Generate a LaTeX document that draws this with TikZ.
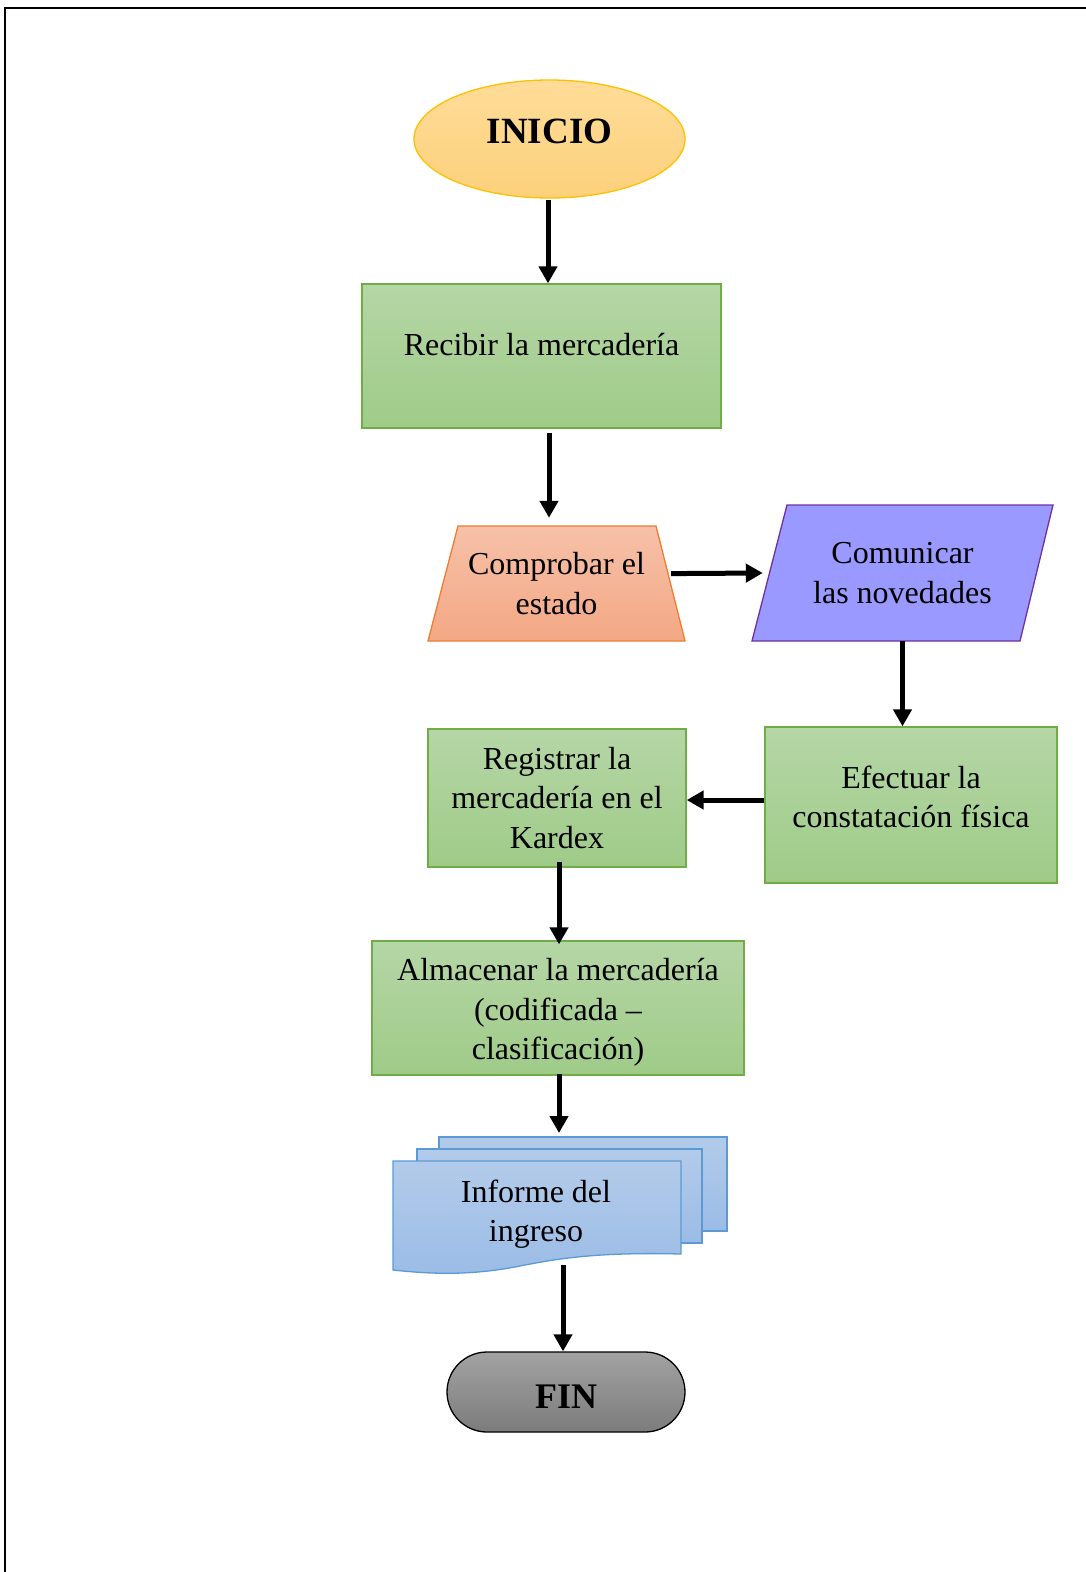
\documentclass[tikz,border=0pt]{standalone}
\usepackage{fontspec}
\setmainfont{Liberation Serif}
\usetikzlibrary{arrows.meta,shapes.geometric,calc}
\definecolor{grnB}{HTML}{70AD47}
\definecolor{grnT}{HTML}{B5D6A6}
\definecolor{grnM}{HTML}{9FCB88}
\definecolor{orB}{HTML}{ED7D31}
\definecolor{orT}{HTML}{F6C1A8}
\definecolor{orM}{HTML}{F4A885}
\definecolor{yeB}{HTML}{FFC000}
\definecolor{yeT}{HTML}{FFDC98}
\definecolor{yeM}{HTML}{FCD17C}
\definecolor{puF}{HTML}{9999FF}
\definecolor{puB}{HTML}{7030A0}
\definecolor{blB}{HTML}{5B9BD5}
\definecolor{blT}{HTML}{B3CBEA}
\definecolor{blM}{HTML}{9BBCE6}
\definecolor{gyT}{HTML}{A2A2A2}
\definecolor{gyM}{HTML}{7C7C7C}
\tikzset{
  txt/.style={font=\fontsize{32}{39.5}\selectfont, align=center, inner sep=0pt},
  greenbox/.style={rectangle, draw=grnB, line width=1.3pt, top color=grnT, bottom color=grnM, inner sep=0pt},
  arr/.style={line width=5pt, -{Triangle[length=17pt,width=18pt]}},
  frame/.style={line width=2pt},
}
\begin{document}
\begin{tikzpicture}[x=1pt,y=-1pt]
\useasboundingbox (0,0) rectangle (1086,1572);
\fill[white] (0,0) rectangle (1086,1572);
% page frame
\draw[frame] (5,1580) -- (5,8) -- (1095,8);

% INICIO
\node[ellipse, draw=yeB, line width=1.3pt, top color=yeT, bottom color=yeM,
      minimum width=271pt, minimum height=118pt, inner sep=0pt] (inicio) at (549.5,139) {};
\node[inner sep=0pt, font=\fontsize{37}{40}\selectfont\bfseries] (inicioT) at ([yshift=8pt]inicio.center) {INICIO};

% Recibir
\node[greenbox, minimum width=359pt, minimum height=144pt] (recibir) at (541.5,356) {};
\node[txt] (recibirT) at ([yshift=11pt]recibir.center) {Recibir la mercadería};

% Comprobar (trapezoid)
\path[draw=orB, line width=1.3pt, top color=orT, bottom color=orM]
  (458,526) -- (656,526) -- (685,641) -- (428,641) -- cycle;
\node[txt, minimum width=257pt, minimum height=115pt] (comp) at (556.5,583.5) {Comprobar el\\estado};

% Comunicar (parallelogram)
\path[draw=puB, fill=puF, line width=1.3pt]
  (787,505) -- (1053,505) -- (1020,641) -- (752,641) -- cycle;
\node[txt, minimum width=301pt, minimum height=136pt] (com) at (902.5,573) {Comunicar\\las novedades};

% Efectuar
\node[greenbox, minimum width=292pt, minimum height=156pt] (efe) at (911,805) {};
\node[txt] (efeT) at ([yshift=8pt]efe.center) {Efectuar la\\constatación física};

% Registrar
\node[greenbox, minimum width=258pt, minimum height=138pt] (reg) at (557,798) {};
\node[txt] (regT) at (reg.center) {Registrar la\\mercadería en el\\Kardex};

% Almacenar
\node[greenbox, minimum width=372pt, minimum height=134pt] (alm) at (558,1008) {};
\node[txt] (almT) at ([yshift=-4.5pt]alm.center) {Almacenar la mercadería\\(codificada –\\clasificación)};

% Multidocument
\draw[draw=blB, line width=1.3pt, top color=blT, bottom color=blM]
  (439,1137) rectangle (727,1231);
\draw[draw=blB, line width=1.3pt, top color=blT, bottom color=blM]
  (417,1149) rectangle (702,1243);
\draw[draw=blB, line width=1.3pt, top color=blT, bottom color=blM]
  (393,1161) -- (681,1161) -- (681,1254)
  .. controls (600,1252) and (560,1258) .. (520,1266)
  .. controls (470,1276) and (430,1274) .. (393,1270) -- cycle;
\node[txt] (doc) at (536,1214) {Informe del\\ingreso};
\coordinate (docTop) at (559,1137);
\coordinate (docBot) at (563,1265);

% FIN
\node[rectangle, rounded corners=40pt, draw=black, line width=1.3pt, top color=gyT, bottom color=gyM,
      minimum width=238pt, minimum height=80pt, inner sep=0pt] (fin) at (566,1392) {};
\node[inner sep=0pt, font=\fontsize{36}{40}\selectfont\bfseries] (finT) at ([yshift=-5pt]fin.center) {FIN};

% Connectors
\draw[arr, shorten <=1pt] ([xshift=-1.5pt]inicio.south) -- ([xshift=-1.5pt]inicio.south |- recibir.north);
\draw[arr, shorten <=4pt, shorten >=8pt] ([xshift=7.5pt]recibir.south) -- ([xshift=7.5pt]recibir.south |- comp.north);
\draw[arr, shorten <=-14pt] ([yshift=10pt]comp.east) -- ([xshift=11pt]com.west);
\draw[arr] (com.south) -- (com.south |- efe.north);
\draw[arr] ([yshift=5pt]efe.west) -- ([yshift=5pt]efe.west -| reg.east);
\draw[arr, shorten <=-6pt, shorten >=-4pt] ([xshift=2pt]reg.south) -- ([xshift=2pt]reg.south |- alm.north);
\draw[arr, shorten <=-2pt, shorten >=4pt] (alm.south -| docTop) -- (docTop);
\draw[arr] (docBot) -- (docBot |- fin.north);
\end{tikzpicture}
\end{document}
